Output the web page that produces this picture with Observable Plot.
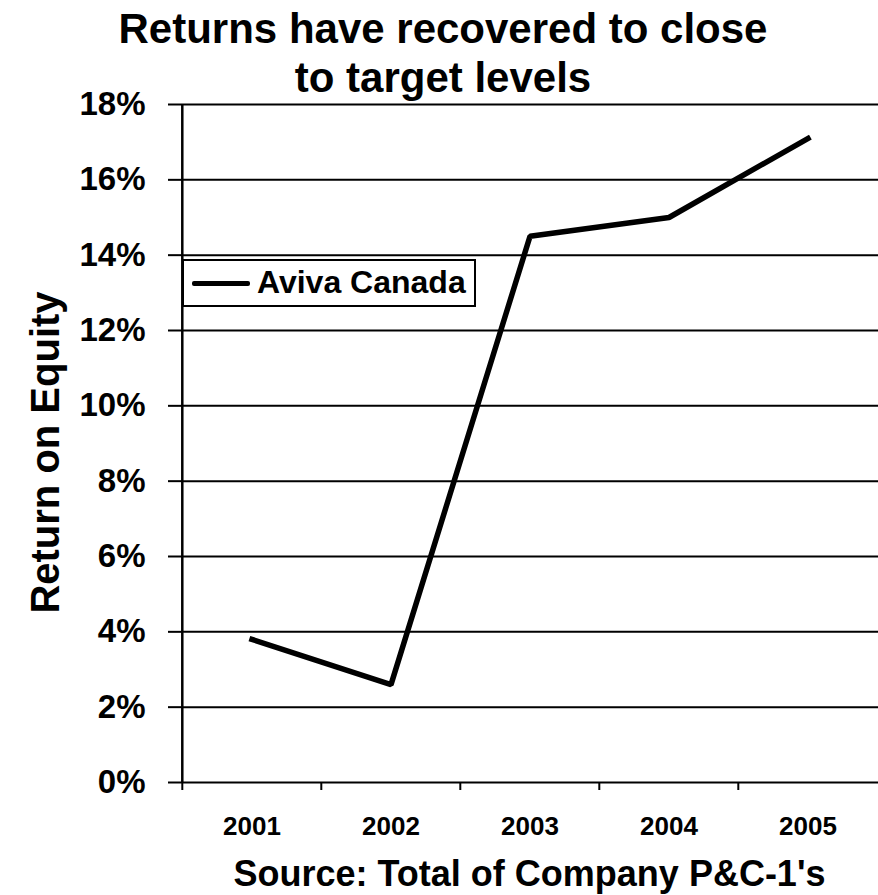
<!DOCTYPE html>
<html>
<head>
<meta charset="utf-8">
<script src="https://cdn.jsdelivr.net/npm/d3@7"></script>
<script src="https://cdn.jsdelivr.net/npm/@observablehq/plot@0.6"></script>
<style>
  html, body { margin: 0; padding: 0; background: #fff; }
  body { width: 878px; height: 895px; overflow: hidden; }
  #wrap { position: relative; width: 878px; height: 895px;
          font-family: "Liberation Sans", Arial, sans-serif; font-weight: bold; color: #000; }
  #chart { position: absolute; left: 0; top: 0; }
  #title { position: absolute; left: 0; top: 4px; width: 886px; text-align: center;
           font-size: 42px; line-height: 49px; }
  #caption { position: absolute; left: 181px; top: 854px; width: 697px; text-align: center;
             font-size: 36px; line-height: 40px; white-space: nowrap; }
  #legend { position: absolute; left: 182px; top: 259px; width: 290px; height: 44px;
            border: 2px solid #000; background: #fff; }
  #legend .swatch { position: absolute; left: 8px; top: 20px; width: 58px; height: 5px;
                    background: #000; border-radius: 2px; }
  #legend .label { position: absolute; left: 73px; top: 3px; font-size: 32px; line-height: 36px;
                   white-space: nowrap; }
</style>
</head>
<body>
<div id="wrap">
  <div id="chart"></div>
  <div id="title">Returns have recovered to close<br>to target levels</div>
  <div id="legend"><div class="swatch"></div><div class="label"></div></div>
  <div id="caption">Source: Total of Company P&amp;C-1's</div>
</div>
<script>
// Return on equity, Aviva Canada, by year
const years = ["2001", "2002", "2003", "2004", "2005"];
const roe = [3.8, 2.6, 14.5, 15.0, 17.1];
const seriesName = "Aviva Canada";
const yTicks = [0, 2, 4, 6, 8, 10, 12, 14, 16, 18];
const yTitle = "Return on Equity";

const data = years.map((year, i) => ({year, roe: roe[i]}));

const width = 878, height = 860;
const marginLeft = 181, marginRight = 0, marginTop = 104, marginBottom = 78;
const step = (width - marginLeft - marginRight) / years.length;

const chart = Plot.plot({
  width, height, marginLeft, marginRight, marginTop, marginBottom,
  style: {fontFamily: '"Liberation Sans", Arial, sans-serif', fontWeight: "bold", color: "#000", background: "#fff", overflow: "visible"},
  x: {type: "band", domain: years, padding: 0},
  y: {domain: [0, 18]},
  marks: [
    // horizontal gridlines
    Plot.ruleY(yTicks, {stroke: "#000", strokeWidth: 2}),
    // y axis: ticks reaching left of the axis line, percent labels
    Plot.axisY({ticks: yTicks, tickFormat: d => d + "%", tickSize: 13, tickPadding: 23,
                fontSize: 33, stroke: "#000", strokeWidth: 2, strokeOpacity: 1, label: null}),
    // vertical axis line on the left edge of the first category
    Plot.ruleX([years[0]], {x: d => d, dx: -step / 2, y1: 0, y2: 18, stroke: "#000", strokeWidth: 2.5}),
    // x axis: ticks sit on category boundaries
    Plot.axisX({tickSize: 8, tickFormat: () => "", dx: -step / 2, stroke: "#000", strokeWidth: 2, strokeOpacity: 1, label: null}),
    Plot.axisX({tickSize: 0, tickPadding: 34, fontSize: 26, label: null}),
    // y axis title
    Plot.text([yTitle], {frameAnchor: "left", text: d => d, rotate: -90, dx: -123, dy: 9,
                         textAnchor: "middle", lineAnchor: "bottom", fontSize: 40, fontWeight: "bold", fill: "#000"}),
    // the series
    Plot.line(data, {x: "year", y: "roe", stroke: "#000", strokeWidth: 5.5, strokeLinejoin: "miter", strokeLinecap: "square"})
  ]
});
document.getElementById("chart").appendChild(chart);
document.querySelector("#legend .label").textContent = seriesName;
</script>
</body>
</html>
